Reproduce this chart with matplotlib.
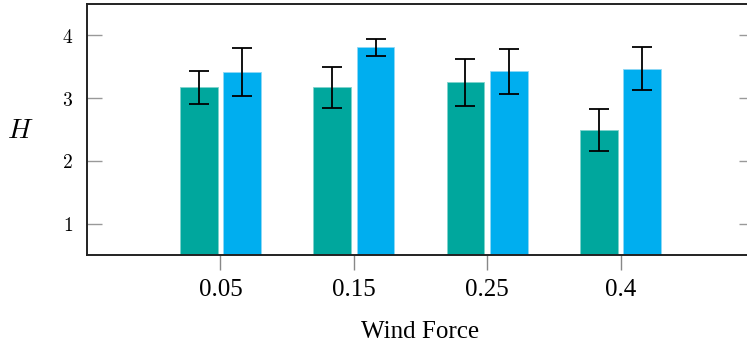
import numpy as np
import matplotlib.pyplot as plt

plt.rcParams['mathtext.fontset'] = 'cm'

# data
forces = ['0.05', '0.15', '0.25', '0.4']
h_green = [3.17, 3.17, 3.25, 2.49]
err_green = [0.27, 0.32, 0.37, 0.34]
h_blue = [3.42, 3.81, 3.43, 3.47]
err_blue = [0.38, 0.14, 0.36, 0.34]

green = '#00A79D'
blue = '#00AEEF'

fig = plt.figure(figsize=(7.47, 3.45), dpi=100)
ax = fig.add_axes([87 / 747, 90 / 345, 667 / 747, 251 / 345])

x = np.arange(len(forces))
w = 0.283
off = 0.163
ekw = dict(ecolor='black', elinewidth=1.3, capsize=7.5, capthick=1.3)
ax.bar(x - off, h_green, w, color=green, edgecolor='#7fd3cc', linewidth=0.6,
       yerr=err_green, error_kw=ekw, zorder=2)
ax.bar(x + off, h_blue, w, color=blue, edgecolor='#8fd8f5', linewidth=0.6,
       yerr=err_blue, error_kw=ekw, zorder=2)

ax.set_xlim(-1, 4)
ax.set_ylim(0.5, 4.5)

ax.set_xticks(x)
ax.set_xticklabels(forces, family='Liberation Serif', fontsize=18)
ax.set_yticks([1, 2, 3, 4])
ax.set_yticklabels([r'$1$', r'$2$', r'$3$', r'$4$'], fontsize=14)

ax.tick_params(axis='x', direction='out', length=11, width=1, color='#888888', pad=6)
ax.tick_params(axis='y', direction='in', length=11, width=1, color='#999999', pad=10,
               right=True)

for s in ['left', 'top', 'bottom', 'right']:
    ax.spines[s].set_color('#222222')
    ax.spines[s].set_linewidth(1.4)

ax.set_xlabel('Wind Force', family='Liberation Serif', fontsize=18, labelpad=15)
ax.set_ylabel(r'$H$', fontsize=20, rotation=0, labelpad=30, va='center')

fig.savefig('out.png', dpi=100)
